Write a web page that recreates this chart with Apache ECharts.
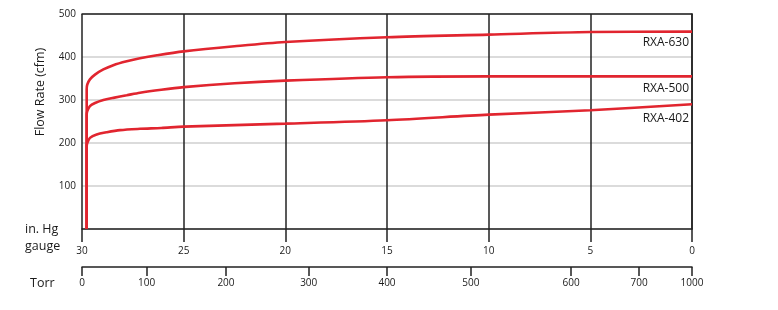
<!DOCTYPE html>
<html><head><meta charset="utf-8">
<script src="https://cdn.jsdelivr.net/npm/echarts@6/dist/echarts.min.js"></script>
<style>html,body{margin:0;padding:0;background:#fff}#c{width:778px;height:310px}</style>
</head><body><div id="c"></div>
<script>
// in. Hg gauge positions and flow rates (cfm)
const gauge630 = [29.77, 29.77, 29.74, 29.61, 29.36, 28.95, 28.46, 27.8, 27.15, 26.31, 25, 22.5, 20, 15, 10, 5, 0];
const flow630  = [0,     325,   336,   348,   359,   371,   381,   390,  397,   404,   413, 425, 435, 446, 452, 458, 459];
const gauge500 = [29.77, 29.77, 29.74, 29.61, 29.36, 28.95, 28.46, 27.8, 27.15, 26.1, 25, 22.5, 20, 15, 10, 5, 0];
const flow500  = [0,     265,   274,   286,   293,   300,   305,   311,  317,   324,  330, 339, 345, 353, 355, 355, 355];
const gauge402 = [29.77, 29.77, 29.74, 29.61, 29.28, 28.79, 28.13, 27.15, 26.1, 25, 20, 15, 10, 5, 0];
const flow402  = [0,     192,   200,   212,   220,   225,   230,   233,   235,  238, 245, 253, 266, 276, 290];
const seriesNames = ['RXA-630', 'RXA-500', 'RXA-402'];
const yTicks = [0, 100, 200, 300, 400, 500];
const gaugeTicks = [30, 25, 20, 15, 10, 5, 0];
// Torr scale labels and where they sit on the in. Hg gauge scale
const torrLabels = ['0', '100', '200', '300', '400', '500', '600', '700', '1000'];
const torrAtGauge = [30, 26.82, 22.92, 18.85, 15.0, 10.88, 5.95, 2.6, 0];

const RED = '#e1252f';
const FONT = 'Open Sans';
const INK = '#1a1a1a';
function pairs(xs, ys){ return xs.map((x,i)=>[x, ys[i]]); }
function mkSeries(name, xs, ys, dy){
  return {name, type:'line', xAxisIndex:0, yAxisIndex:0, data:pairs(xs, ys), showSymbol:false, symbol:'none',
    smooth:0.3, lineStyle:{color:RED, width:2.6}, z:5, animation:false,
    endLabel:{show:true, formatter:name, align:'right', verticalAlign:'top', distance:0, offset:[-3,dy],
      color:INK, fontSize:12, fontFamily:FONT}};
}
const chart = echarts.init(document.getElementById('c'), null, {renderer:'canvas'});
chart.setOption({
  animation:false,
  textStyle:{fontFamily:FONT},
  grid:[{left:82, right:86, top:14, bottom:81},
        {left:82, right:86, top:262, height:5}],
  xAxis:[
    {type:'value', gridIndex:0, min:0, max:30, interval:5, inverse:true, position:'bottom',
     axisLine:{show:true, lineStyle:{color:'#222', width:1.5}},
     axisTick:{show:true, length:13, lineStyle:{color:'#222', width:1.5}},
     axisLabel:{margin:17, fontSize:10, color:INK, fontFamily:FONT},
     splitLine:{show:true, lineStyle:{color:'#222', width:1.5}}},
    {type:'value', gridIndex:1, min:0, max:30, inverse:true, position:'bottom',
     axisLine:{show:true, lineStyle:{color:'#222', width:1.5}},
     axisTick:{show:true, length:9, customValues:torrAtGauge, lineStyle:{color:'#222', width:1.5}},
     axisLabel:{show:true, margin:11, fontSize:10, color:INK, fontFamily:FONT, customValues:torrAtGauge,
       formatter:function(v){ let bi=0, bd=1e9; torrAtGauge.forEach((g,i)=>{const d=Math.abs(g-v); if(d<bd){bd=d;bi=i;}}); return torrLabels[bi]; }},
     splitLine:{show:false}},
    {type:'value', gridIndex:0, min:0, max:30, inverse:true, position:'top',
     axisLine:{show:true, lineStyle:{color:'#222', width:1.5}},
     axisTick:{show:false}, axisLabel:{show:false}, splitLine:{show:false}}
  ],
  yAxis:[
    {type:'value', gridIndex:0, min:0, max:500, interval:100,
     axisLine:{show:true, lineStyle:{color:'#222', width:1.5}},
     axisTick:{show:false},
     axisLabel:{margin:6, fontSize:10, color:INK, fontFamily:FONT, formatter:v=> v===0 ? '' : String(v)},
     splitLine:{show:true, lineStyle:{color:'#cfcfcf', width:1.5}}},
    {type:'value', gridIndex:1, show:false, min:0, max:1}
  ],
  series:[
    mkSeries(seriesNames[0], gauge630, flow630, 5),
    mkSeries(seriesNames[1], gauge500, flow500, 6),
    mkSeries(seriesNames[2], gauge402, flow402, 8)
  ],
  graphic:[
    {type:'text', x:40, y:92, rotation:Math.PI/2, style:{text:'Flow Rate (cfm)', fill:INK, font:'12.5px "Open Sans"', align:'center', verticalAlign:'middle'}},
    {type:'text', x:25, y:229, style:{text:'in. Hg', fill:INK, font:'12.5px "Open Sans"', align:'left', verticalAlign:'middle'}},
    {type:'text', x:25, y:246, style:{text:'gauge', fill:INK, font:'12.5px "Open Sans"', align:'left', verticalAlign:'middle'}},
    {type:'text', x:30, y:283, style:{text:'Torr', fill:INK, font:'12.5px "Open Sans"', align:'left', verticalAlign:'middle'}}
  ]
});
</script></body></html>
